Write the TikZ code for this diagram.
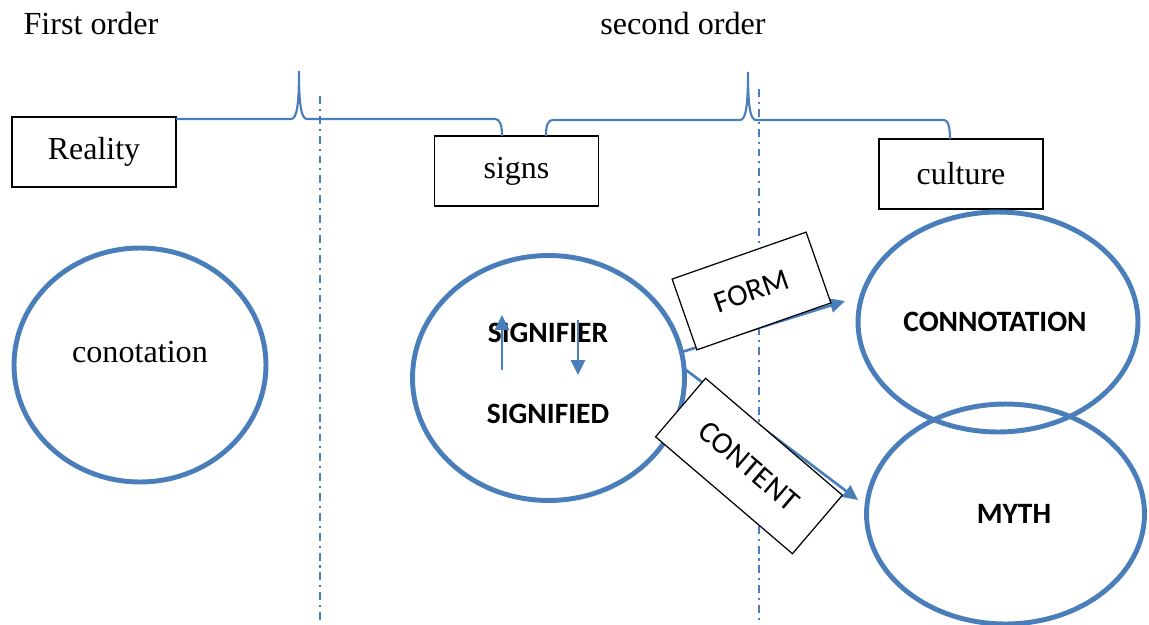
\documentclass[tikz,border=0pt]{standalone}
\usepackage{fontspec}
\setmainfont{Liberation Serif}
\newfontfamily\calibri{Carlito}
\usetikzlibrary{arrows.meta,shapes.geometric}
\definecolor{wordblue}{RGB}{74,126,187}

\begin{document}
\begin{tikzpicture}[x=0.02cm,y=-0.02cm,
    box/.style={draw,line width=0.8pt,minimum width=3.28cm,minimum height=1.4cm,inner sep=0pt,font=\fontsize{18.2}{21}\selectfont},
    ring/.style={draw=wordblue,line width=2.8pt,ellipse,inner sep=0pt,outer sep=0pt},
    tag/.style={draw,fill=white,line width=0.7pt,inner sep=0pt,font=\calibri\fontsize{17.5}{20}\selectfont},
    caps/.style={font=\calibri\bfseries\fontsize{16.8}{20}\selectfont},
    words/.style={font=\fontsize{18.3}{21}\selectfont},
    flow/.style={draw=wordblue,line width=1.5pt,-{Triangle[length=8.5pt,width=8pt]}},
    brace/.style={draw=wordblue,line width=1.2pt},
    sepline/.style={draw=wordblue,line width=1.1pt,dash pattern=on 4.5pt off 2.8pt on 1.2pt off 2.8pt}]
    \useasboundingbox (0,0) rectangle (1149,625);

    \draw[sepline] (320,96) -- (320,625);
    \draw[sepline] (759,89) -- (759,625);

    \node[words,anchor=base] (first) at (91,35) {First order};
    \node[words,anchor=base] (second) at (683,35) {second order};

    \node[box] (reality) at (94,152) {Reality};
    \node[box] (signs) at (516.5,171) {signs};
    \node[box] (culture) at (961,174) {culture};

    \draw[brace] (176,119) -- (291,119) .. controls (297,119) and (299,104) .. (299,71)
        .. controls (299,104) and (301,119) .. (307,119) -- (495,119)
        .. controls (500,119) and (502,125) .. (502,136);
    \draw[brace] (546,136) .. controls (546,125) and (548,120) .. (553,120) -- (740,120)
        .. controls (746,120) and (748,105) .. (748,72)
        .. controls (748,105) and (750,120) .. (756,120) -- (944,120)
        .. controls (948,120) and (950,127) .. (950,139);

    \node[ring,minimum width=5.04cm,minimum height=4.68cm] (conot) at (140,365) {};
    \node[words] (conotext) at (140,352) {conotation};

    \node[ring,minimum width=5.44cm,minimum height=4.9cm] (sign) at (548.5,378) {};
    \node[caps] (signifier) at (548,333) {SIGNIFIER};
    \node[caps] (signified) at (548,413.5) {SIGNIFIED};

    \node[ring,minimum width=5.6cm,minimum height=4.4cm] (conn) at (998,322) {};
    \node[caps] (conntext) at (995,322) {CONNOTATION};
    \node[ring,minimum width=5.56cm,minimum height=4.4cm] (myth) at (1005.5,514) {};
    \node[caps] (mythtext) at (1014,514) {MYTH};

    \coordinate (uplow) at (502,370);
    \coordinate (uptop) at (502,315);
    \coordinate (downtop) at (578,320);
    \coordinate (downlow) at (578,375);
    \draw[flow] (uplow) -- (uptop);
    \draw[flow] (downtop) -- (downlow);

    \coordinate (formtip) at (845,301);
    \coordinate (contip) at (858,500);
    \draw[flow] (sign.11) -- (formtip);
    \draw[flow] (sign.4) -- (contip);

    \node[tag,rotate=19.3,minimum width=2.84cm,minimum height=1.5cm] (form) at (751.5,291) {FORM};
    \node[tag,rotate=-40.5,minimum width=3.6cm,minimum height=1.54cm] (content) at (749,466) {CONTENT};
\end{tikzpicture}
\end{document}
